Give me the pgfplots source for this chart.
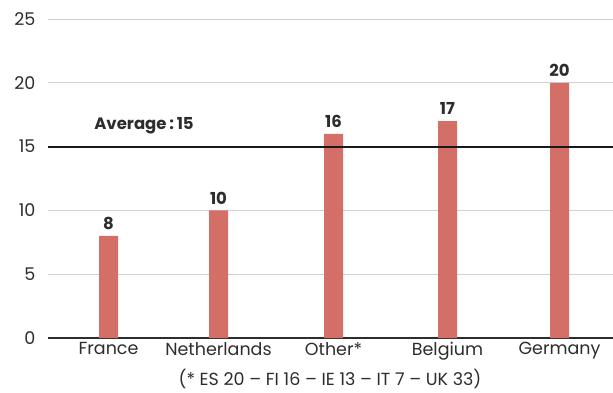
\documentclass[border=0pt]{standalone}
\usepackage{fontspec}
\setmainfont{Poppins}
\usepackage{pgfplots}
\pgfplotsset{compat=1.18}
\definecolor{barred}{RGB}{212,111,104}
\definecolor{gridgray}{RGB}{208,208,208}
\definecolor{txt}{RGB}{45,45,45}
\begin{document}
\begin{tikzpicture}[x=1pt,y=1pt]
\begin{axis}[
  at={(48pt,54pt)}, anchor=south west,
  scale only axis, width=565pt, height=319pt,
  xmin=48, xmax=613, ymin=0, ymax=25,
  xtick={108.5,218.5,333.5,447.5,559.5},
  xticklabels={France,Netherlands,Other*,Belgium,Germany},
  ytick={0,5,10,15,20,25},
  axis x line*=bottom, axis y line*=left,
  y axis line style={draw=none},
  x axis line style={draw=txt, line width=1.2pt, -},
  tick style={draw=none},
  ymajorgrids=true,
  grid style={gridgray, line width=0.9pt},
  /pgf/number format/assume math mode=true,
  ticklabel style={font=\fontsize{17.5}{20}\selectfont, text=txt},
  yticklabel style={xshift=-9pt},
  xticklabel style={yshift=-1pt},
  clip=false,
]
\addplot[ybar, bar width=19pt, fill=barred, draw=none,
  nodes near coords,
  nodes near coords style={font=\fontsize{16.5}{19}\selectfont\bfseries, text=txt, inner sep=6pt}]
  coordinates {(108.5,8) (218.5,10) (333.5,16) (447.5,17) (559.5,20)};
\addplot[black!90, line width=2.2pt] coordinates {(48,15) (613,15)};
\node[font=\fontsize{16.5}{19}\selectfont\bfseries, text=txt] at (axis cs:144,16.6) {Average\,:\,15};
\end{axis}
\node[font=\fontsize{17.5}{20}\selectfont, text=txt] at (330pt,13pt) {(* ES 20 – FI 16 – IE 13 – IT 7 – UK 33)};
\pgfresetboundingbox
\path[use as bounding box] (0,0) rectangle (613pt,392pt);
\end{tikzpicture}
\end{document}
